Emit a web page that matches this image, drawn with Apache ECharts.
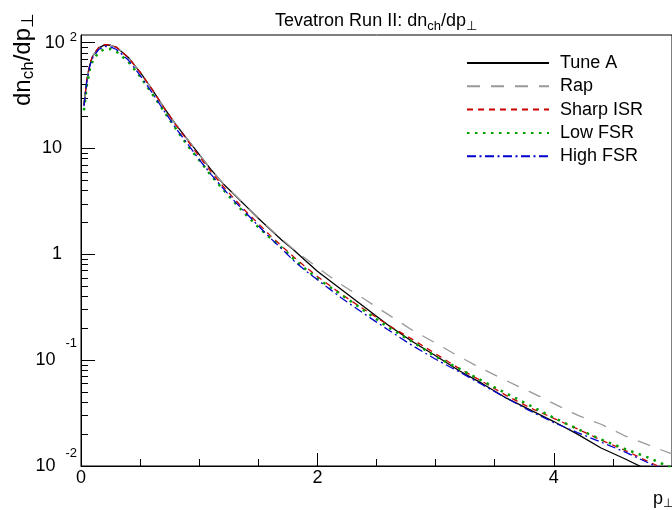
<!DOCTYPE html>
<html><head><meta charset="utf-8">
<script src="https://cdn.jsdelivr.net/npm/echarts@6/dist/echarts.min.js"></script>
<style>html,body{margin:0;padding:0;background:#fff}#c{width:672px;height:510px}</style>
</head><body><div id="c"></div>
<script>
// ---- data ----
const pT = [0.025, 0.05, 0.075, 0.1, 0.15, 0.2, 0.25, 0.3, 0.4, 0.5, 0.6, 0.7, 0.8, 0.9, 1.0,
  1.1, 1.2, 1.3, 1.4, 1.5, 1.6, 1.7, 1.8, 1.9, 2.0, 2.2, 2.4, 2.6, 2.8, 3.0, 3.2, 3.4, 3.6, 3.8,
  4.0, 4.2, 4.4, 4.6, 4.8, 5.0];
const tuneA = [25.7, 44.7, 61.7, 75.0, 89.1, 95.1, 94.4, 90.2, 72.4, 52.5, 36.3, 24.5, 17.0, 12.2, 8.81,
  6.31, 4.68, 3.63, 2.82, 2.19, 1.72, 1.36, 1.10, 0.871, 0.692, 0.468, 0.316, 0.214, 0.151, 0.110, 0.0794, 0.0596, 0.0437, 0.0339,
  0.0263, 0.0200, 0.0148, 0.0117, 0.00912, 0.00724];
const rap = [25.7, 44.7, 61.7, 75.0, 89.1, 95.1, 94.4, 90.2, 72.4, 52.5, 36.3, 24.5, 17.0, 12.2, 8.81,
  6.31, 4.68, 3.65, 2.85, 2.21, 1.74, 1.38, 1.11, 0.912, 0.750, 0.519, 0.376, 0.269, 0.193, 0.145, 0.108, 0.0822, 0.0638, 0.0501,
  0.0389, 0.0302, 0.0248, 0.0193, 0.0158, 0.0130];
const sharpISR = [25.7, 45.7, 63.1, 75.9, 90.2, 95.9, 95.1, 90.6, 72.4, 52.5, 36.3, 24.5, 16.8, 11.9, 8.41,
  6.03, 4.42, 3.31, 2.51, 1.95, 1.51, 1.19, 0.944, 0.759, 0.617, 0.422, 0.299, 0.214, 0.158, 0.115, 0.0832, 0.0624, 0.0462, 0.0355,
  0.0282, 0.0224, 0.0176, 0.0141, 0.0110, 0.00871];
const lowFSR = [22.9, 39.8, 56.2, 67.6, 81.3, 87.1, 87.1, 82.2, 66.1, 47.9, 33.1, 22.6, 15.5, 10.7, 7.76,
  5.56, 4.12, 3.09, 2.34, 1.80, 1.43, 1.15, 0.902, 0.724, 0.589, 0.417, 0.292, 0.204, 0.150, 0.108, 0.0832, 0.0631, 0.0484, 0.0372,
  0.0285, 0.0224, 0.0178, 0.0145, 0.0120, 0.00955];
const highFSR = [25.1, 43.7, 60.3, 72.4, 86.1, 92.3, 91.2, 86.1, 68.4, 49.0, 33.9, 22.9, 15.7, 11.1, 7.85,
  5.69, 4.22, 3.16, 2.43, 1.86, 1.43, 1.12, 0.871, 0.700, 0.575, 0.389, 0.272, 0.193, 0.138, 0.102, 0.0776, 0.0582, 0.0437, 0.0331,
  0.0257, 0.0207, 0.0168, 0.0136, 0.0107, 0.00851];
const seriesNames = ['Tune A', 'Rap', 'Sharp ISR', 'Low FSR', 'High FSR'];
const xMajorTicks = [0, 2, 4];
const xMinorTicks = [0.5, 1, 1.5, 2.5, 3, 3.5, 4.5];
const yMajorTicks = [0.01, 0.1, 1, 10, 100];
const yTickLabels = ['10^-2', '10^-1', '1', '10', '10^2'];
const yMinorTicks = [0.02, 0.03, 0.04, 0.05, 0.06, 0.07, 0.08, 0.09,
  0.2, 0.3, 0.4, 0.5, 0.6, 0.7, 0.8, 0.9, 2, 3, 4, 5, 6, 7, 8, 9,
  20, 30, 40, 50, 60, 70, 80, 90];

// ---- chart ----
const FONT = 'Liberation Sans, Arial, Helvetica, sans-serif';
const chart = echarts.init(document.getElementById('c'), null, {renderer: 'canvas'});
const pairs = arr => pT.map((x, i) => [x, arr[i]]);
const styles = [
  {color: '#000000', width: 1.3, type: 'solid'},
  {color: '#999999', width: 1.3, type: [13, 11]},
  {color: '#cc0000', width: 1.3, type: [6, 5]},
  {color: '#00a000', width: 2.5, type: [2.5, 5.5]},
  {color: '#0000cc', width: 1.3, type: [9, 3.5, 2, 3.5]}
];
const dataSets = [tuneA, rap, sharpISR, lowFSR, highFSR];

function yFmt(v) {
  const i = yMajorTicks.findIndex(t => Math.abs(t - v) / t < 1e-6);
  if (i < 0) return '';
  const parts = yTickLabels[i].split('^');
  if (parts.length === 1) return '{p|' + parts[0] + '}';
  return '{b|' + parts[0] + '}{e' + i + '|' + parts[1] + '}';
}

const option = {
  animation: false,
  backgroundColor: '#ffffff',
  grid: {left: 81, top: 35, right: -2, bottom: 44, show: true, borderColor: '#000', borderWidth: 1, backgroundColor: 'transparent'},
  legend: {
    orient: 'vertical', left: 466, top: 54, padding: 0,
    itemWidth: 82, itemHeight: 18, itemGap: 5.3,
    data: seriesNames,
    itemStyle: {color: 'rgba(0,0,0,0)', borderWidth: 0, opacity: 0},
    textStyle: {fontSize: 18, fontFamily: FONT, color: '#000', padding: [0, 0, 0, 6]}
  },
  xAxis: [{
    type: 'value', min: 0, max: 5, position: 'bottom',
    axisLine: {show: true, lineStyle: {color: '#000', width: 1}},
    axisTick: {show: true, inside: true, length: 13, customValues: xMajorTicks, lineStyle: {color: '#000', width: 1}},
    axisLabel: {show: true, customValues: xMajorTicks, margin: 3, fontSize: 18, fontFamily: FONT, color: '#000',
      formatter: v => String(v)},
    splitLine: {show: false}
  }, {
    type: 'value', min: 0, max: 5, position: 'bottom',
    axisLine: {show: false},
    axisTick: {show: true, inside: true, length: 7, customValues: xMinorTicks, lineStyle: {color: '#000', width: 1}},
    axisLabel: {show: false},
    splitLine: {show: false}
  }],
  yAxis: [{
    type: 'log', logBase: 10, min: 0.01, max: 118, position: 'left',
    axisLine: {show: true, lineStyle: {color: '#000', width: 1}},
    axisTick: {show: true, inside: true, length: 14, customValues: yMajorTicks, lineStyle: {color: '#000', width: 1}},
    axisLabel: {show: true, customValues: yMajorTicks, margin: 4, align: 'right', color: '#000',
      fontSize: 18, fontFamily: FONT, formatter: yFmt,
      rich: {
        p: {fontSize: 18, fontFamily: FONT, color: '#000', padding: [0, 15, 0, 0]},
        b: {fontSize: 18, fontFamily: FONT, color: '#000'},
        e0: {fontSize: 13, fontFamily: FONT, color: '#000', padding: [0, 0, 25, 10]},
        e1: {fontSize: 13, fontFamily: FONT, color: '#000', padding: [0, 0, 33, 10]},
        e4: {fontSize: 13, fontFamily: FONT, color: '#000', padding: [0, 0, 11, 5]}
      }},
    splitLine: {show: false}
  }, {
    type: 'log', logBase: 10, min: 0.01, max: 118, position: 'left',
    axisLine: {show: false},
    axisTick: {show: true, inside: true, length: 7, customValues: yMinorTicks, lineStyle: {color: '#000', width: 1}},
    axisLabel: {show: false},
    splitLine: {show: false}
  }],
  series: seriesNames.map((name, k) => ({
    name: name, type: 'line', xAxisIndex: 0, yAxisIndex: 0,
    data: pairs(dataSets[k]), symbol: 'none', showSymbol: false, smooth: false, clip: true,
    color: styles[k].color,
    lineStyle: {color: styles[k].color, width: styles[k].width, type: styles[k].type},
    emphasis: {disabled: true}
  })),
  graphic: [
    {type: 'text', x: 376, y: 21, silent: true, style: {
      text: '{t|Tevatron Run II: dn}{s|ch}{t|/dp}{s|⊥}', align: 'center', verticalAlign: 'middle',
      rich: {t: {fontSize: 18, fontFamily: FONT, fill: '#000'}, s: {fontSize: 13, fontFamily: FONT, fill: '#000', padding: [10, 0, 0, 0]}}
    }},
    {type: 'text', x: 23, y: 13, rotation: Math.PI / 2, silent: true, style: {
      text: '{t|dn}{s|ch}{t|/dp}{s|⊥}', align: 'right', verticalAlign: 'middle',
      rich: {t: {fontSize: 24, fontFamily: FONT, fill: '#000'}, s: {fontSize: 17, fontFamily: FONT, fill: '#000', padding: [11, 0, 0, 0]}}
    }},
    {type: 'text', x: 653, y: 499, silent: true, style: {
      text: '{t|p}{s|⊥}', align: 'left', verticalAlign: 'middle',
      rich: {t: {fontSize: 18, fontFamily: FONT, fill: '#000'}, s: {fontSize: 12, fontFamily: FONT, fill: '#000', padding: [10, 0, 0, 0]}}
    }}
  ]
};
chart.setOption(option);
</script></body></html>
